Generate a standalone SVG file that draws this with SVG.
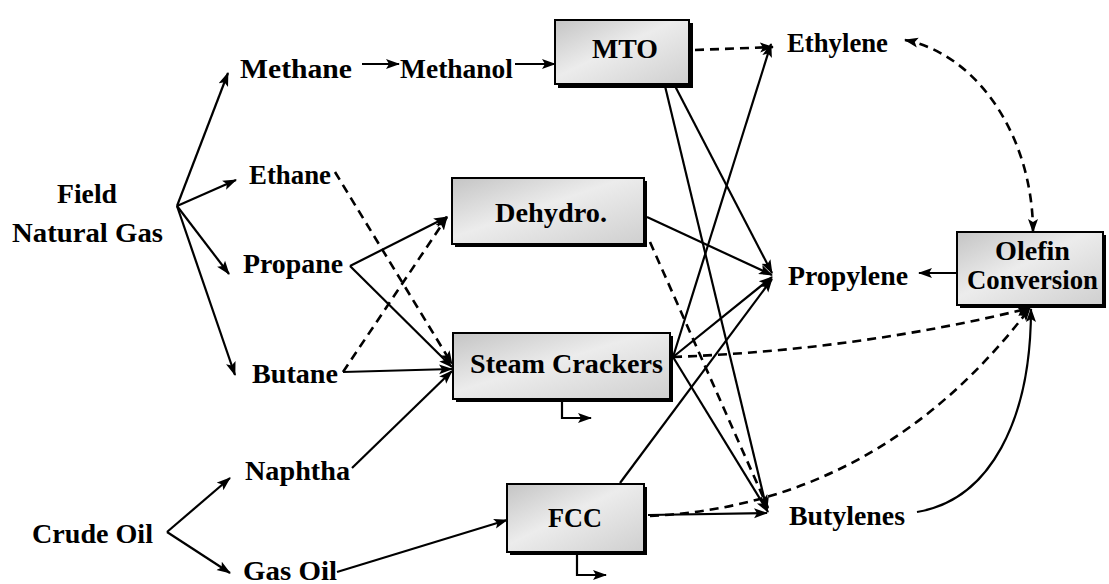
<svg xmlns="http://www.w3.org/2000/svg" width="1109" height="584" viewBox="0 0 1109 584">
<defs>
<marker id="ah" markerUnits="userSpaceOnUse" markerWidth="14" markerHeight="12" viewBox="0 0 14 12" refX="13" refY="6" orient="auto">
<path d="M0,1 L14,6 L0,11 L3,6 Z" fill="#000"/>
</marker>
<marker id="ahs" markerUnits="userSpaceOnUse" markerWidth="14" markerHeight="12" viewBox="0 0 14 12" refX="1" refY="6" orient="auto">
<path d="M14,1 L0,6 L14,11 L11,6 Z" fill="#000"/>
</marker>
<linearGradient id="g" x1="0" y1="0" x2="1" y2="1">
<stop offset="0" stop-color="#c4c4c4"/>
<stop offset="0.45" stop-color="#ececec"/>
<stop offset="1" stop-color="#cfcfcf"/>
</linearGradient>
</defs>
<style>
text{font-family:"Liberation Serif","Times New Roman",serif;font-weight:bold;font-size:27px;fill:#000}
.box{fill:url(#g);stroke:#000;stroke-width:2}
.sh{fill:#000}
.c{fill:none;stroke:#000;stroke-width:2.2}
.a{marker-end:url(#ah)}
.d{stroke-dasharray:9 6;stroke-width:2.6}
</style>
<rect width="1109" height="584" fill="#fff"/>

<g id="connectors">
<line class="c a" x1="177" y1="206" x2="228" y2="73"/>
<line class="c a" x1="177" y1="206" x2="236" y2="180"/>
<line class="c a" x1="177" y1="206" x2="229" y2="274"/>
<line class="c a" x1="177" y1="206" x2="235" y2="375"/>
<line class="c a" x1="362" y1="64" x2="399" y2="64"/>
<line class="c a" x1="515" y1="64" x2="555" y2="64"/>
<line class="c a d" x1="695" y1="50" x2="773" y2="47"/>
<line class="c a d" x1="335" y1="172" x2="452" y2="364"/>
<line class="c a" x1="350" y1="266" x2="447" y2="217"/>
<line class="c a" x1="350" y1="266" x2="452" y2="367"/>
<line class="c a d" x1="343" y1="372" x2="447" y2="217"/>
<line class="c a" x1="343" y1="372" x2="452" y2="369"/>
<line class="c a" x1="352" y1="468" x2="452" y2="371"/>
<line class="c a" x1="167" y1="532" x2="230" y2="478"/>
<line class="c a" x1="167" y1="532" x2="230" y2="573"/>
<line class="c a" x1="337" y1="572" x2="507" y2="520"/>
<line class="c a" x1="665" y1="86" x2="767" y2="510"/>
<line class="c a" x1="675" y1="86" x2="772" y2="273"/>
<line class="c a" x1="647" y1="217" x2="772" y2="275"/>
<line class="c a d" x1="650" y1="242" x2="768" y2="508"/>
<line class="c a" x1="673" y1="357" x2="771" y2="44"/>
<line class="c a" x1="673" y1="357" x2="772" y2="277"/>
<line class="c a" x1="673" y1="357" x2="768" y2="512"/>
<line class="c a" x1="620" y1="483" x2="772" y2="279"/>
<line class="c a" x1="648" y1="515" x2="767" y2="513"/>
<path class="c a d" d="M673,357 Q860,350 1030,308"/>
<path class="c a d" d="M650,516 Q880,505 1030,308"/>
<path class="c a" d="M917,512 C990,500 1031,420 1031,309"/>
<path class="c a d" d="M905,40 C980,55 1033,140 1033,232" style="marker-start:url(#ahs)"/>
<line class="c a" x1="957" y1="273" x2="919" y2="273"/>
<path class="c a" d="M562,402 V418 H591"/>
<path class="c a" d="M577,555 V575 H606"/>
</g>

<g id="mto"><rect class="sh" x="558" y="23" width="135" height="65"/><rect class="box" x="555" y="20" width="134" height="64"/><text x="592" y="58" textLength="66" lengthAdjust="spacingAndGlyphs">MTO</text></g>
<g id="dehydro"><rect class="sh" x="455" y="181" width="192" height="66"/><rect class="box" x="452" y="178" width="192" height="66"/><text x="495" y="222" textLength="112" lengthAdjust="spacingAndGlyphs">Dehydro.</text></g>
<g id="steam"><rect class="sh" x="456" y="336" width="217" height="66"/><rect class="box" x="453" y="333" width="217" height="66"/><text x="470" y="373" textLength="193" lengthAdjust="spacingAndGlyphs">Steam Crackers</text></g>
<g id="fcc"><rect class="sh" x="510" y="487" width="137" height="68"/><rect class="box" x="507" y="484" width="137" height="68"/><text x="548" y="527" textLength="54" lengthAdjust="spacingAndGlyphs">FCC</text></g>
<g id="olefin"><rect class="sh" x="960" y="235" width="146" height="73"/><rect class="box" x="957" y="232" width="146" height="73"/><text x="995" y="260" textLength="75" lengthAdjust="spacingAndGlyphs">Olefin</text><text x="967" y="289" textLength="131" lengthAdjust="spacingAndGlyphs">Conversion</text></g>

<g id="methane"><text x="240" y="78" textLength="112" lengthAdjust="spacingAndGlyphs">Methane</text></g>
<g id="methanol"><text x="400" y="78" textLength="113" lengthAdjust="spacingAndGlyphs">Methanol</text></g>
<g id="ethane"><text x="249" y="184" textLength="82" lengthAdjust="spacingAndGlyphs">Ethane</text></g>
<g id="field"><text x="57" y="203" textLength="60" lengthAdjust="spacingAndGlyphs">Field</text><text x="12" y="242" textLength="151" lengthAdjust="spacingAndGlyphs">Natural Gas</text></g>
<g id="propane"><text x="243" y="273" textLength="100" lengthAdjust="spacingAndGlyphs">Propane</text></g>
<g id="butane"><text x="252" y="383" textLength="86" lengthAdjust="spacingAndGlyphs">Butane</text></g>
<g id="naphtha"><text x="245" y="480" textLength="105" lengthAdjust="spacingAndGlyphs">Naphtha</text></g>
<g id="crude"><text x="32" y="543" textLength="121" lengthAdjust="spacingAndGlyphs">Crude Oil</text></g>
<g id="gasoil"><text x="243" y="580" textLength="94" lengthAdjust="spacingAndGlyphs">Gas Oil</text></g>
<g id="ethylene"><text x="787" y="52" textLength="101" lengthAdjust="spacingAndGlyphs">Ethylene</text></g>
<g id="propylene"><text x="788" y="285" textLength="120" lengthAdjust="spacingAndGlyphs">Propylene</text></g>
<g id="butylenes"><text x="789" y="525" textLength="116" lengthAdjust="spacingAndGlyphs">Butylenes</text></g>
</svg>
